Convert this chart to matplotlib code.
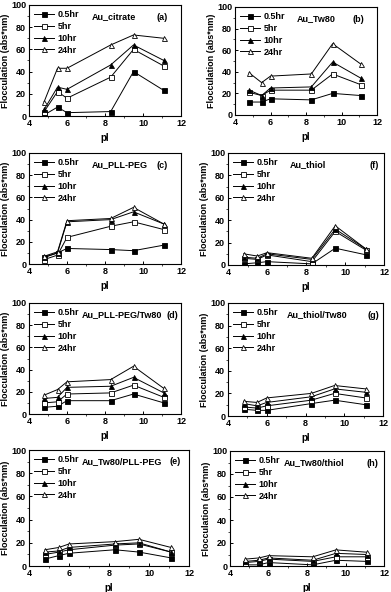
import matplotlib
matplotlib.use("Agg")
import matplotlib.pyplot as plt

plt.rcParams['font.family'] = ['Liberation Sans', 'DejaVu Sans']
plt.rcParams['font.weight'] = 'bold'

pI = [4.8, 5.5, 6.0, 8.3, 9.5, 11.1]
series_labels = ["0.5hr", "5hr", "10hr", "24hr"]

citrate = [[1, 8, 3, 4, 40, 23], [4, 22, 16, 35, 60, 45],
           [6, 26, 24, 46, 64, 50], [13, 43, 43, 64, 73, 70]]
tw80 = [[12, 12, 15, 14, 20, 18], [21, 18, 23, 23, 38, 28],
        [23, 18, 25, 26, 49, 34], [39, 30, 36, 38, 66, 47]]
pllpeg = [[6, 10, 14, 13, 12, 17], [4, 8, 24, 34, 38, 31],
          [6, 10, 38, 40, 47, 36], [7, 11, 39, 41, 51, 36]]
thiol = [[1, 2, 3, 1, 15, 9], [6, 5, 9, 3, 30, 13],
         [7, 6, 10, 5, 32, 14], [10, 8, 11, 6, 35, 14]]
pllpeg_tw80 = [[6, 7, 12, 12, 18, 10], [10, 11, 18, 19, 26, 15],
               [14, 15, 24, 25, 33, 19], [17, 22, 29, 31, 43, 23]]
thiol_tw80 = [[6, 5, 5, 11, 14, 10], [8, 7, 9, 14, 20, 16],
              [11, 9, 12, 17, 24, 21], [13, 12, 16, 20, 27, 24]]
tw80_pllpeg = [[6, 9, 11, 14, 12, 7], [10, 12, 14, 18, 19, 12],
               [12, 13, 16, 19, 20, 12], [14, 16, 19, 21, 23, 16]]
tw80_thiol = [[1, 1, 3, 1, 5, 4], [3, 4, 6, 4, 8, 8],
              [4, 5, 7, 5, 11, 10], [6, 7, 9, 8, 14, 12]]

# name, tag, data, axes box (l, t, r, b) px, title x px, tag right x px
panels = [
    ("Au_citrate", "(a)", citrate, (29, 5, 181, 116), 92, 168),
    ("Au_Tw80", "(b)", tw80, (235, 7, 377, 115), 297, 364),
    ("Au_PLL-PEG", "(c)", pllpeg, (29, 153, 181, 264), 92, 168),
    ("Au_thiol", "(f)", thiol, (228, 153, 384, 265), 290, 379),
    ("Au_PLL-PEG/Tw80", "(d)", pllpeg_tw80, (29, 303, 181, 414), 82, 178),
    ("Au_thiol/Tw80", "(g)", thiol_tw80, (228, 303, 383, 416), 287, 379),
    ("Au_Tw80/PLL-PEG", "(e)", tw80_pllpeg, (29, 450, 189, 566), 82, 181),
    ("Au_Tw80/thiol", "(h)", tw80_thiol, (230, 451, 384, 566), 284, 378),
]

W, H = 391, 592
fig = plt.figure(figsize=(W / 100, H / 100), dpi=100)

markers = [dict(marker='s', mfc='black'), dict(marker='s', mfc='white'),
           dict(marker='^', mfc='black'), dict(marker='^', mfc='white')]

fs = 6.5
for name, tag, data, (l, t, r, b), tx, gx in panels:
    ax = fig.add_axes([l / W, 1 - b / H, (r - l) / W, (b - t) / H])
    for vals, lab, mk in zip(data, series_labels, markers):
        ax.plot(pI, vals, color='black', lw=0.7, ms=3.6, mec='black',
                mew=0.6, label=lab, **mk)
    ax.set_xlim(4, 12)
    ax.set_ylim(0, 100)
    ax.set_xticks([4, 6, 8, 10, 12])
    ax.set_yticks([0, 20, 40, 60, 80, 100])
    ax.set_xticks([5, 7, 9, 11], minor=True)
    ax.set_yticks([10, 30, 50, 70, 90], minor=True)
    ax.tick_params(labelsize=fs, width=0.7, length=2.5, direction='in', pad=2)
    ax.tick_params(which='minor', length=1.5, width=0.5)
    for s in ax.spines.values():
        s.set_linewidth(0.8)
    ax.set_xlabel("pI", fontsize=fs + 0.5, fontweight='bold', labelpad=4)
    ax.set_ylabel("Flocculation (abs*nm)", fontsize=fs, fontweight='bold', labelpad=1)
    ax.legend(loc='upper left', frameon=False, handlelength=2.2,
              handletextpad=0.35, labelspacing=0.3, borderaxespad=0.3,
              borderpad=0.3, prop={'weight': 'bold', 'size': fs})
    ytxt = t + 12
    fig.text(tx / W, 1 - ytxt / H, name, fontsize=fs, fontweight='bold',
             ha='left', va='center')
    fig.text(gx / W, 1 - ytxt / H, tag, fontsize=fs, fontweight='bold',
             ha='right', va='center')

fig.savefig("out.png", dpi=100)
